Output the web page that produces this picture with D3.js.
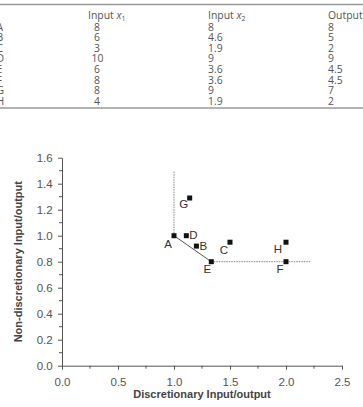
<!DOCTYPE html>
<html>
<head>
<meta charset="utf-8">
<script src="https://cdn.jsdelivr.net/npm/d3@7"></script>
<style>
  html, body { margin: 0; padding: 0; background: #fff; }
  svg { display: block; }
</style>
</head>
<body>
<div id="chart"></div>
<script>
// table data
const units = ["A", "B", "C", "D", "E", "F", "G", "H"];
const input1 = ["8", "6", "3", "10", "6", "8", "8", "4"];
const input2 = ["8", "4.6", "1.9", "9", "3.6", "3.6", "9", "1.9"];
const outputs = ["8", "5", "2", "9", "4.5", "4.5", "7", "2"];

// plotted ratios
const discRatio = [1.0, 1.2, 1.5, 1.11, 1.333, 2.0, 1.14, 2.0];
const nonDiscRatio = [1.0, 0.92, 0.95, 1.0, 0.8, 0.8, 1.29, 0.95];

// frontier segments
const frontierSolid = [[1.0, 1.0], [1.333, 0.8]];
const frontierVert = [[1.0, 1.0], [1.0, 1.5]];
const frontierHoriz = [[1.333, 0.8], [2.22, 0.8]];

const yTicks = [0, 0.2, 0.4, 0.6, 0.8, 1.0, 1.2, 1.4, 1.6];
const xTicks = [0, 0.5, 1.0, 1.5, 2.0, 2.5];

// label offsets relative to each marker
const labelOffset = {
  A: [-6, 8], B: [7, 0], C: [-6, 8], D: [7, -1],
  E: [-4, 7], F: [-6, 7], G: [-6, 6], H: [-8, 7]
};

const width = 363, height = 407;
const svg = d3.select("#chart").append("svg")
  .attr("width", width)
  .attr("height", height);

// ---- table ----
const tableFont = "'Open Sans', 'DejaVu Sans', sans-serif";
const tcol = "#555";
const colX = [0, 93, 208, 328];
const headerY = 19;
const rowY0 = 30.5, rowH = 10.6;

svg.append("line")
  .attr("x1", 0).attr("x2", width)
  .attr("y1", 4.5).attr("y2", 4.5)
  .attr("stroke", "#999").attr("stroke-width", 1.4);

const header = svg.append("g")
  .attr("font-family", tableFont)
  .attr("font-size", 10.4)
  .attr("fill", tcol);

const h1 = header.append("text").attr("x", 88).attr("y", headerY);
h1.append("tspan").text("Input ");
h1.append("tspan").attr("font-style", "italic").text("x");
h1.append("tspan").attr("font-size", 7).attr("dy", 2).text("1");

const h2 = header.append("text").attr("x", 208).attr("y", headerY);
h2.append("tspan").text("Input ");
h2.append("tspan").attr("font-style", "italic").text("x");
h2.append("tspan").attr("font-size", 7).attr("dy", 2).text("2");

header.append("text").attr("x", 328).attr("y", headerY).text("Output");

const rows = svg.append("g")
  .attr("font-family", tableFont)
  .attr("font-size", 10.4)
  .attr("fill", tcol);

units.forEach((u, i) => {
  const y = rowY0 + i * rowH;
  rows.append("text").attr("x", -3.5).attr("y", y).text(u);
  rows.append("text").attr("x", input1[i].length > 1 ? colX[1] - 1.5 : colX[1] + 1).attr("y", y).text(input1[i]);
  rows.append("text").attr("x", colX[2]).attr("y", y).text(input2[i]);
  rows.append("text").attr("x", colX[3]).attr("y", y).text(outputs[i]);
});

svg.append("line")
  .attr("x1", 0).attr("x2", width)
  .attr("y1", 108).attr("y2", 108)
  .attr("stroke", "#999").attr("stroke-width", 1.4);

// ---- chart ----
const chartFont = "'Liberation Sans', Arial, sans-serif";
const axisCol = "#555";

const x = d3.scaleLinear().domain([0, 2.5]).range([62, 342]);
const y = d3.scaleLinear().domain([0, 1.6]).range([365.7, 157.7]);

const xAxis = d3.axisBottom(x).tickValues(xTicks).tickFormat(d3.format(".1f")).tickSize(4).tickSizeOuter(0);
const yAxis = d3.axisLeft(y).tickValues(yTicks).tickFormat(d3.format(".1f")).tickSize(4).tickSizeOuter(0);

const gx = svg.append("g")
  .attr("transform", `translate(0,${y(0)})`)
  .call(xAxis);
// minor x ticks
gx.selectAll(".minor")
  .data(d3.range(0.25, 2.5, 0.5))
  .enter().append("line")
  .attr("class", "minor")
  .attr("x1", d => x(d)).attr("x2", d => x(d))
  .attr("y1", 0).attr("y2", 3);

const gy = svg.append("g")
  .attr("transform", `translate(${x(0)},0)`)
  .call(yAxis);
gy.selectAll(".minor")
  .data(d3.range(0.1, 1.6, 0.2))
  .enter().append("line")
  .attr("class", "minor")
  .attr("x1", 0).attr("x2", -3)
  .attr("y1", d => y(d)).attr("y2", d => y(d));

[gx, gy].forEach(g => {
  g.select(".domain").attr("stroke", axisCol);
  g.selectAll("line").attr("stroke", axisCol);
  g.selectAll("text")
    .attr("font-family", chartFont)
    .attr("font-size", 11.5)
    .attr("fill", "#555");
});
gx.selectAll(".tick text").attr("dy", "1.15em");
gy.selectAll(".tick text").attr("dx", "-0.2em");

svg.append("text")
  .attr("x", (x(0) + x(2.5)) / 2)
  .attr("y", 398)
  .attr("text-anchor", "middle")
  .attr("font-family", chartFont)
  .attr("font-size", 11)
  .attr("font-weight", "bold")
  .attr("fill", "#444")
  .text("Discretionary Input/output");

svg.append("text")
  .attr("transform", `translate(22,${(y(0) + y(1.6)) / 2}) rotate(-90)`)
  .attr("text-anchor", "middle")
  .attr("font-family", chartFont)
  .attr("font-size", 11)
  .attr("font-weight", "bold")
  .attr("fill", "#444")
  .text("Non-discretionary Input/output");

const line = d3.line().x(d => x(d[0])).y(d => y(d[1]));

svg.append("path")
  .attr("d", line(frontierVert))
  .attr("fill", "none")
  .attr("stroke", "#888")
  .attr("stroke-width", 1)
  .attr("stroke-dasharray", "1.5,1");

svg.append("path")
  .attr("d", line(frontierHoriz))
  .attr("fill", "none")
  .attr("stroke", "#888")
  .attr("stroke-width", 1)
  .attr("stroke-dasharray", "1.5,1");

svg.append("path")
  .attr("d", line(frontierSolid))
  .attr("fill", "none")
  .attr("stroke", "#555")
  .attr("stroke-width", 1);

const pts = units.map((u, i) => ({ name: u, dx: discRatio[i], nd: nonDiscRatio[i] }));

svg.selectAll(".pt")
  .data(pts)
  .enter().append("rect")
  .attr("class", "pt")
  .attr("x", d => x(d.dx) - 2.5)
  .attr("y", d => y(d.nd) - 2.5)
  .attr("width", 5)
  .attr("height", 5)
  .attr("fill", "#111");

svg.selectAll(".pt-label")
  .data(pts)
  .enter().append("text")
  .attr("class", "pt-label")
  .attr("x", d => x(d.dx) + labelOffset[d.name][0])
  .attr("y", d => y(d.nd) + labelOffset[d.name][1])
  .attr("text-anchor", "middle")
  .attr("dominant-baseline", "central")
  .attr("font-family", chartFont)
  .attr("font-size", 11.5)
  .attr("fill", "#333")
  .text(d => d.name);
</script>
</body>
</html>
